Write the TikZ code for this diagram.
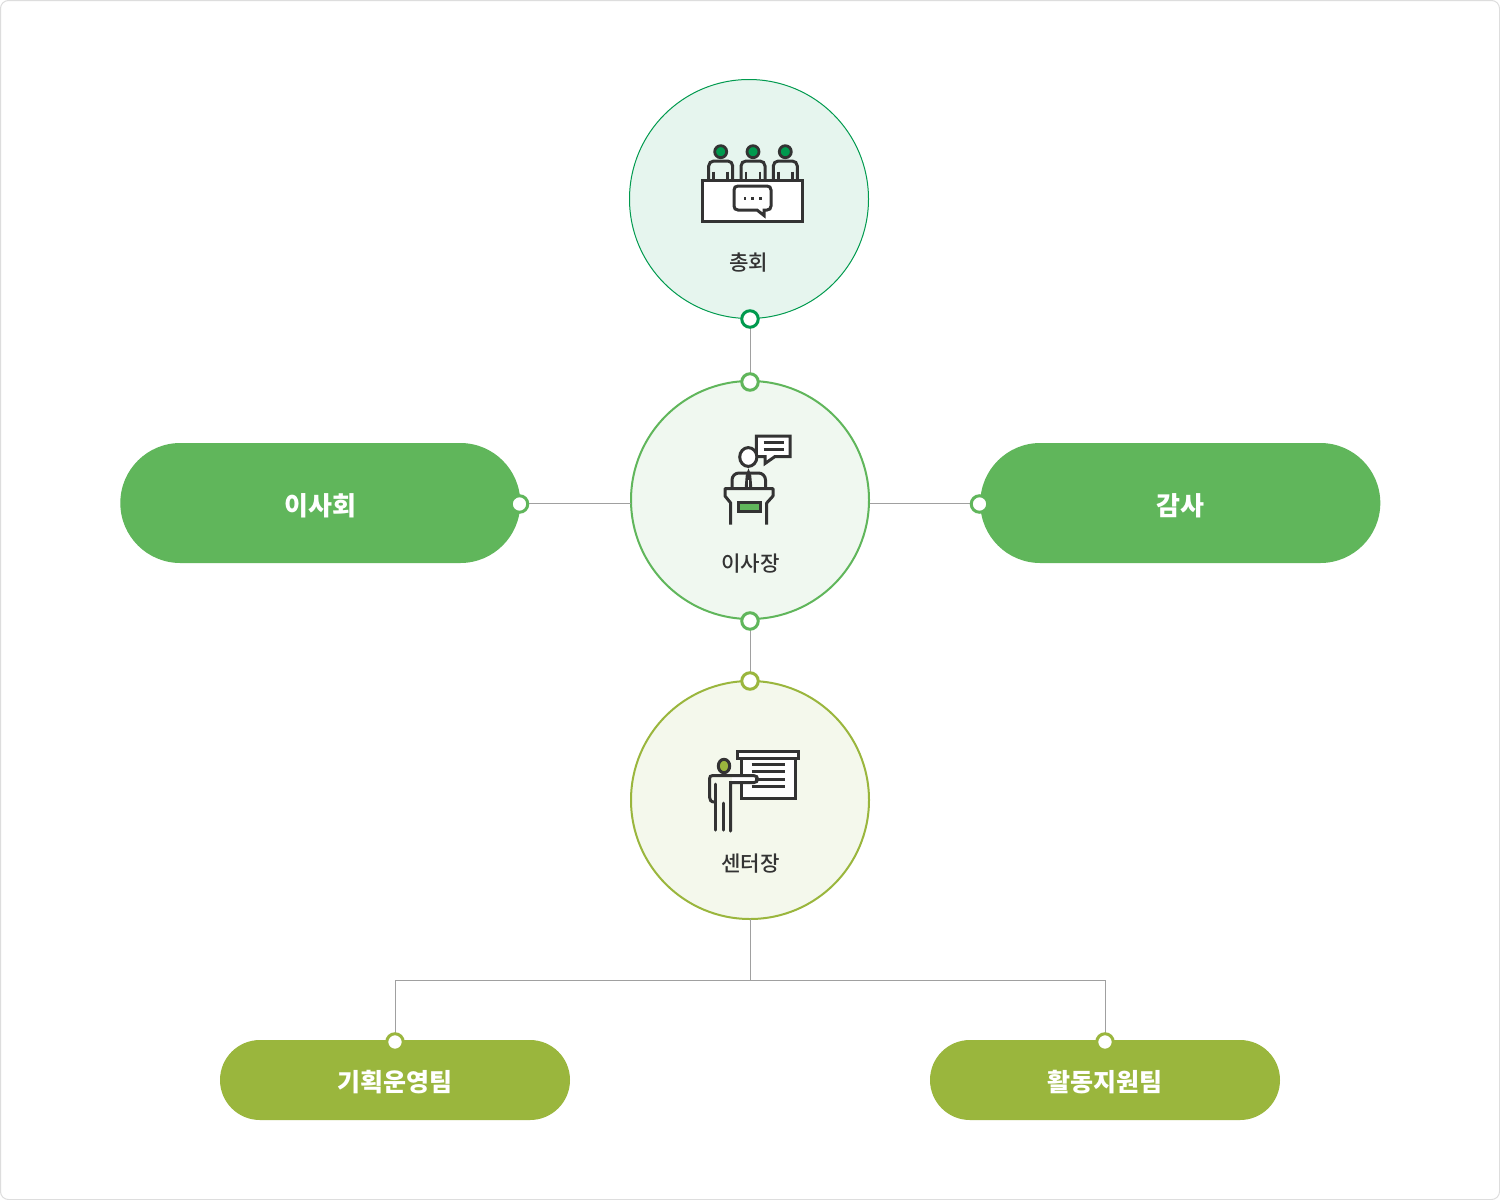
\documentclass[tikz,border=0pt]{standalone}
\usepackage{fontspec}
\setmainfont{Noto Sans CJK KR}
\newfontfamily\medfont{Noto Sans CJK KR Medium}
\definecolor{frameC}{HTML}{DDDDDD}
\definecolor{lineC}{HTML}{A0A0A0}
\definecolor{inkC}{HTML}{333333}
\definecolor{deepC}{HTML}{009A4E}
\definecolor{midC}{HTML}{60B65B}
\definecolor{oliveC}{HTML}{9AB63D}
\definecolor{fillA}{HTML}{E6F5EE}
\definecolor{fillB}{HTML}{F0F8F0}
\definecolor{fillC}{HTML}{F4F8EC}
\usetikzlibrary{shapes.misc}
\tikzset{
  x=1pt,y=-1pt,
  bigcirc/.style={circle,minimum size=238pt,inner sep=0pt,line width=2pt},
  dotn/.style={circle,minimum size=16.5pt,inner sep=0pt,fill=white,line width=3pt},
  pill/.style={rounded rectangle,inner sep=0pt,text=white},
  conn/.style={draw=lineC,line width=1pt},
  icon/.style={draw=inkC,line width=3pt,line join=miter},
  thinicon/.style={draw=inkC,line width=2.6pt},
  lab/.style={text=inkC,font=\medfont\fontsize{21.2}{25}\selectfont}
}
\begin{document}
\begin{tikzpicture}
\useasboundingbox (0,0) rectangle (1500,1200);
\fill[white] (0,0) rectangle (1500,1200);
\draw[frameC,line width=1pt,rounded corners=8pt] (0.5,0.5) rectangle (1499.5,1199.5);

% circles
\node[bigcirc,draw=deepC,fill=fillA,line width=1pt,minimum size=239pt] (top) at (749,199) {};
\node[bigcirc,draw=midC,fill=fillB] (mid) at (750,500) {};
\node[bigcirc,draw=oliveC,fill=fillC] (low) at (750,800) {};

% pills
\node[pill,fill=midC,minimum width=400pt,minimum height=120pt,text height=25pt,text depth=0pt,font=\bfseries\fontsize{26}{30}\selectfont] (board) at (320.3,503) {이사회};
\node[pill,fill=midC,minimum width=400pt,minimum height=120pt,text height=25pt,text depth=0pt,font=\bfseries\fontsize{26}{30}\selectfont] (audit) at (1180.3,503) {감사};
\node[pill,fill=oliveC,minimum width=350pt,minimum height=80pt,text height=23pt,text depth=0pt,font=\bfseries\fontsize{25}{30}\selectfont] (plan) at (395,1080) {기획운영팀};
\node[pill,fill=oliveC,minimum width=350pt,minimum height=80pt,text height=23pt,text depth=0pt,font=\bfseries\fontsize{25}{30}\selectfont] (act) at (1105,1080) {활동지원팀};

% dots coordinates
\coordinate (dTop) at (750,319);
\coordinate (dMidT) at (750,382);
\coordinate (dMidB) at (750,621);
\coordinate (dLowT) at (750,681);
\coordinate (dBoard) at (519.5,504);
\coordinate (dAudit) at (979.5,504);
\coordinate (dPlan) at (395,1042);
\coordinate (dAct) at (1105,1042);
\coordinate (busC) at (750,980);
\coordinate (busL) at (395,980);
\coordinate (busR) at (1105,980);
\coordinate (lowB) at (750,919);
\coordinate (midL) at (630.5,503.5);
\coordinate (midR) at (869.5,503.5);
\coordinate (dBoardE) at (519.5,503.5);
\coordinate (dAuditE) at (979.5,503.5);

% connectors
\draw[conn] (dTop) -- (dMidT);
\draw[conn] (dMidB) -- (dLowT);
\draw[conn] (dBoardE) -- (midL);
\draw[conn] (midR) -- (dAuditE);
\draw[conn] (lowB) -- (busC);
\draw[conn] (dPlan) -- (busL) -- (busR) -- (dAct);

% dots
\node[dotn,draw=deepC] (n1) at (dTop) {};
\node[dotn,draw=midC] (n2) at (dMidT) {};
\node[dotn,draw=midC] (n3) at (dMidB) {};
\node[dotn,draw=oliveC] (n4) at (dLowT) {};
\node[dotn,draw=midC] (n5) at (dBoard) {};
\node[dotn,draw=midC] (n6) at (dAudit) {};
\node[dotn,draw=oliveC] (n7) at (dPlan) {};
\node[dotn,draw=oliveC] (n8) at (dAct) {};

% labels
\node[lab] (lTop) at (748.7,262.8) {총회};
\node[lab] (lMid) at (750.4,564) {이사장};
\node[lab] (lLow) at (750.4,864) {센터장};

% icon 1
\foreach \cx in {720.7,753,785.3}{
  \draw[icon,line width=2.8pt,fill=deepC] (\cx,151.7) circle (6pt);
  \draw[icon,fill=fillA,rounded corners=5pt] (\cx-12,181) -- (\cx-12,161) -- (\cx+12,161) -- (\cx+12,181);
  \draw[thinicon] (\cx-7,171.5) -- (\cx-7,180);
  \draw[thinicon] (\cx+7,171.5) -- (\cx+7,180);
}
\draw[icon,fill=white] (702,180.6) rectangle (802,221);
\draw[icon,fill=white] (738,186) -- (767,186) .. controls (769.5,186) and (771,187.5) .. (771,190) -- (771,206) .. controls (771,208.5) and (769.5,210) .. (767,210) -- (764,210) -- (764,215.5) -- (757,210) -- (738,210) .. controls (735.5,210) and (734,208.5) .. (734,206) -- (734,190) .. controls (734,187.5) and (735.5,186) .. (738,186) -- cycle;
\foreach \dx in {745,752.7,760.3}{\fill[inkC] (\dx-1.4,197) rectangle (\dx+1.4,199.8);}

% icon 2
\draw[icon,fill=white] (756.3,436) -- (790.2,436) -- (790.2,456.5) -- (775,456.5) -- (765,463.5) -- (765,456.5) -- (756.3,456.5) -- cycle;
\draw[icon] (763.5,442.7) -- (783.5,442.7);
\draw[icon] (763.5,449) -- (783.5,449);
\draw[icon,fill=white] (748.3,457) ellipse (8.6pt and 9.4pt);
\draw[icon,rounded corners=7pt] (732,488) -- (732,473) -- (765.5,473) -- (765.5,488);
\draw[thinicon,fill=inkC] (746,488) -- (747,476) -- (748.5,472) -- (750,476) -- (751,488);
\fill[fillB] (747.6,480) rectangle (749.4,488);
\draw[icon,line join=round] (730.7,524.5) -- (730.7,503) -- (725,496) -- (725,488.5) -- (773,488.5) -- (773,496) -- (766.7,503) -- (766.7,524.5);
\draw[icon,fill=midC] (738,502) rectangle (760.5,511.2);

% icon 3
\draw[icon,fill=white] (741.3,757) rectangle (795.3,798.5);
\draw[icon,fill=white] (737.5,751.5) rectangle (798.6,758);
\foreach \ly in {764.5,771.7,779,786.5}{\draw[icon] (751.7,\ly) -- (785,\ly);}
\draw[icon,fill=oliveC] (724,766) ellipse (5.7pt and 6.7pt);
\fill[white] (732,776) rectangle (755,782);
\draw[icon,line cap=round] (730.5,831) -- (730.5,782.7) -- (753.5,782.7) .. controls (759,782.7) and (759,775.5) .. (753.5,775.5) -- (713,775.5) .. controls (710.5,775.5) and (709.5,776.5) .. (709.5,779) -- (709.5,797) .. controls (709.5,800) and (711,802) .. (714.5,802);
\draw[icon,line cap=round] (715,784) -- (715,830);
\draw[icon,line cap=round] (723,803) -- (723,830);
\end{tikzpicture}
\end{document}
